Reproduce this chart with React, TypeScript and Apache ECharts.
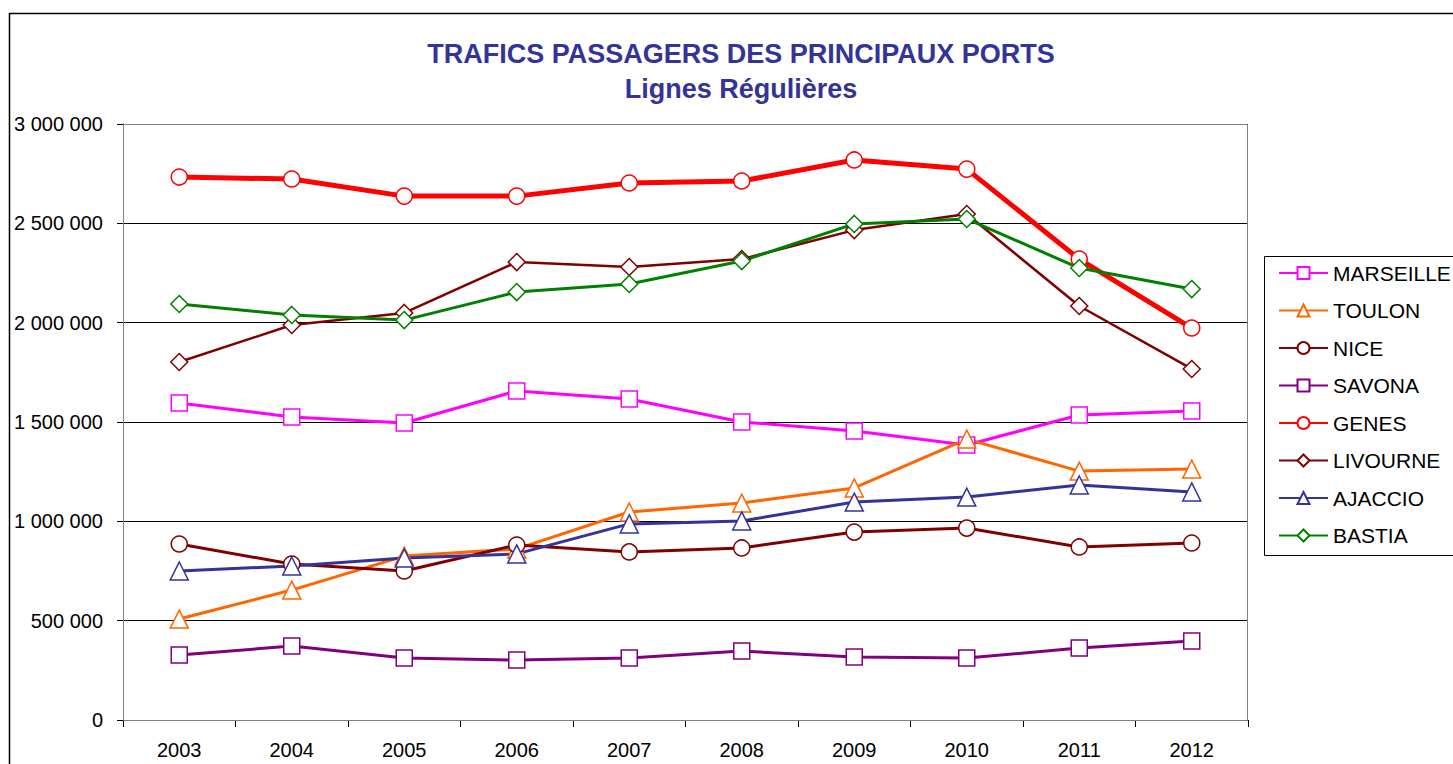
import React, { useEffect, useRef } from "react";
import * as echarts from "echarts";

const years = ["2003", "2004", "2005", "2006", "2007", "2008", "2009", "2010", "2011", "2012"];

const marseille = [1596000, 1525000, 1495000, 1656000, 1616000, 1500000, 1455000, 1384000, 1535000, 1555000];
const toulon = [508000, 654000, 825000, 861000, 1047000, 1092000, 1168000, 1414000, 1253000, 1263000];
const nice = [886000, 785000, 750000, 881000, 846000, 866000, 946000, 966000, 871000, 891000];
const savona = [327000, 372000, 312000, 302000, 312000, 347000, 317000, 312000, 362000, 398000];
const genes = [2733000, 2723000, 2637000, 2637000, 2703000, 2713000, 2819000, 2773000, 2320000, 1973000];
const livourne = [1802000, 1988000, 2049000, 2305000, 2280000, 2320000, 2466000, 2547000, 2084000, 1767000];
const ajaccio = [750000, 775000, 815000, 836000, 987000, 1002000, 1097000, 1122000, 1183000, 1148000];
const bastia = [2094000, 2039000, 2013000, 2154000, 2195000, 2310000, 2497000, 2522000, 2275000, 2169000];

const seriesDefs = [
  { name: "MARSEILLE", data: marseille, color: "#FF00FF", symbol: "rect", width: 3 },
  { name: "TOULON", data: toulon, color: "#FF6600", symbol: "triangle", width: 3 },
  { name: "NICE", data: nice, color: "#800000", symbol: "circle", width: 3 },
  { name: "SAVONA", data: savona, color: "#800080", symbol: "rect", width: 3 },
  { name: "GENES", data: genes, color: "#FF0000", symbol: "circle", width: 5 },
  { name: "LIVOURNE", data: livourne, color: "#800000", symbol: "diamond", width: 2.5 },
  { name: "AJACCIO", data: ajaccio, color: "#333399", symbol: "triangle", width: 3 },
  { name: "BASTIA", data: bastia, color: "#008000", symbol: "diamond", width: 3 },
];

const symbolSizes: Record<string, number> = { rect: 16, circle: 16, triangle: 18, diamond: 17 };

function fmt(v: number): string {
  return String(v).replace(/\B(?=(\d{3})+(?!\d))/g, " ");
}

export default function App() {
  const ref = useRef<HTMLDivElement>(null);
  useEffect(() => {
    if (!ref.current) return;
    const chart = echarts.init(ref.current, undefined, { renderer: "svg" });
    const font = "'Liberation Sans', Arial, sans-serif";
    chart.setOption({
      animation: false,
      backgroundColor: "#ffffff",
      textStyle: { fontFamily: font },
      title: {
        text: "TRAFICS PASSAGERS DES PRINCIPAUX PORTS",
        subtext: "Lignes Régulières",
        left: 736,
        textAlign: "center",
        top: 34,
        itemGap: 5,
        textStyle: { color: "#333399", fontSize: 27, fontWeight: "bold", fontFamily: font, lineHeight: 30 },
        subtextStyle: { color: "#333399", fontSize: 27, fontWeight: "bold", fontFamily: font, lineHeight: 30 },
      },
      graphic: [
        {
          type: "rect",
          shape: { x: 9.5, y: 13.5, width: 1500, height: 800 },
          style: { fill: "none", stroke: "#000", lineWidth: 1.5 },
          z: 0,
        },
        {
          type: "rect",
          shape: { x: 1264.5, y: 256.5, width: 300, height: 299 },
          style: { fill: "#fff", stroke: "#000", lineWidth: 1 },
          z: 1,
        },
        {
          type: "rect",
          shape: { x: 123.5, y: 124.5, width: 1124, height: 596 },
          style: { fill: "none", stroke: "#808080", lineWidth: 1 },
          z: 1,
        },
      ],
      legend: {
        orient: "vertical",
        left: 1273,
        top: 257,
        itemWidth: 49,
        itemHeight: 15,
        itemGap: 15.5,
        textStyle: { fontSize: 21, color: "#000", fontFamily: font, lineHeight: 22 },
        data: seriesDefs.map((s) => s.name),
        z: 5,
      },
      grid: { left: 123, right: 205, top: 124, bottom: 44 },
      xAxis: {
        type: "category",
        data: years,
        boundaryGap: true,
        axisLine: { lineStyle: { color: "#000", width: 1 } },
        axisTick: { show: true, length: 7, alignWithLabel: false, lineStyle: { color: "#000" } },
        axisLabel: { fontSize: 20, color: "#000", margin: 20, fontFamily: font },
      },
      yAxis: {
        type: "value",
        min: 0,
        max: 3000000,
        interval: 500000,
        axisLine: { show: true, lineStyle: { color: "#000", width: 1 } },
        axisTick: { show: true, length: 6, lineStyle: { color: "#000" } },
        axisLabel: { fontSize: 20, color: "#000", margin: 20, formatter: (v: number) => fmt(v), fontFamily: font },
        splitLine: { show: true, lineStyle: { color: "#000", width: 1 } },
      },
      series: seriesDefs.map((s) => ({
        name: s.name,
        type: "line",
        data: s.data,
        symbol: s.symbol,
        symbolSize: symbolSizes[s.symbol],
        showSymbol: true,
        color: s.color,
        lineStyle: { color: s.color, width: s.width },
        itemStyle: { color: "#ffffff", borderColor: s.color, borderWidth: 1.5 },
        z: 3,
      })),
    });
    return () => chart.dispose();
  }, []);
  return <div ref={ref} style={{ position: "fixed", left: 0, top: 0, width: 1453, height: 764 }} />;
}
